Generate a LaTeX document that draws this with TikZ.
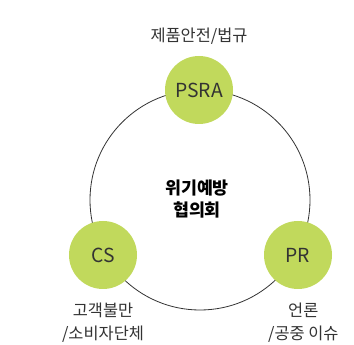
\documentclass[tikz,border=0pt]{standalone}
\usepackage{fontspec}
\setmainfont{Noto Sans CJK KR}
\usetikzlibrary{positioning}
\definecolor{leafgreen}{RGB}{193,217,92}
\definecolor{inkgray}{RGB}{51,51,51}
\tikzset{every picture/.style={line width=0.75pt}}
\tikzset{
  hub/.style={circle, fill=leafgreen, minimum size=51pt, inner sep=0pt, text=inkgray, font=\fontsize{14.5}{17}\selectfont},
  caption/.style={inner sep=0.75pt, text=inkgray, align=center, font=\fontsize{12.3}{17.5}\selectfont}
}
\begin{document}
\begin{tikzpicture}[x=0.75pt,y=0.75pt,yscale=-1,xscale=1]
\useasboundingbox (0,0) rectangle (354,345);

%Shape: Circle
\draw [color=inkgray, line width=0.6pt] (200,200) circle (110) ;

% Hub Nodes
\node [hub] (psra) at (199,90) {PSRA};
\node [hub] (cs) at (103,255) {CS};
\node [hub] (pr) at (298,255) {PR};

% Text Nodes
\node [caption, above=7pt of psra] (psraText) {제품안전/법규};
\node [caption, below=9pt of cs] (csText) {고객불만\\/소비자단체};
\node [caption, below=9pt of pr, xshift=4pt] (prText) {언론\\/공중 이슈};
\node [inner sep=0.75pt, align=center, text=black, font=\fontsize{13}{17}\selectfont\bfseries] (center) at (197,199) {위기예방\\협의회};

\end{tikzpicture}
\end{document}
